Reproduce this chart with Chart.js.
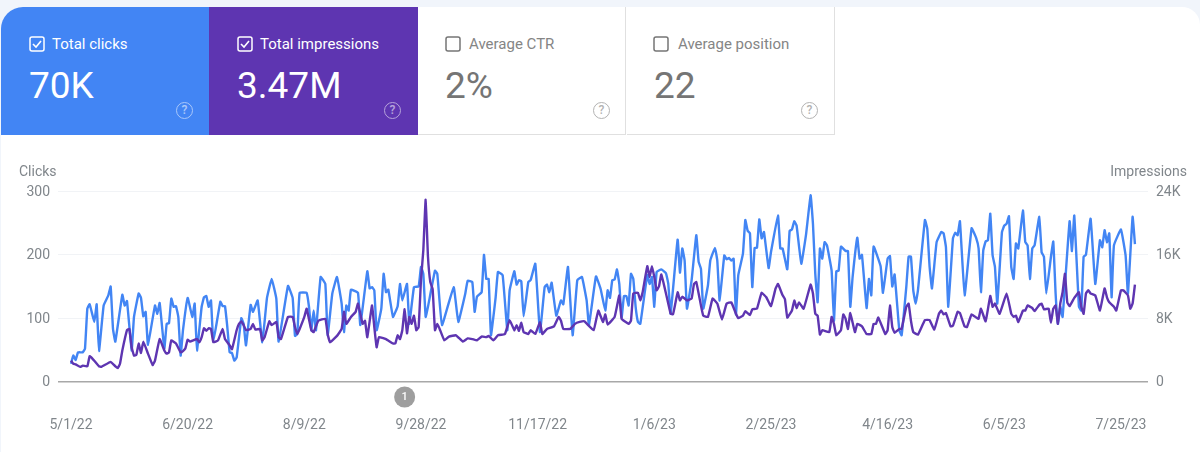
<!DOCTYPE html>
<html>
<head>
<meta charset="utf-8">
<title>Performance</title>
<script src="https://cdn.jsdelivr.net/npm/chart.js@4"></script>
<style>
html, body { margin: 0; padding: 0; width: 1200px; height: 452px; overflow: hidden; background: #f1f5fb; font-family: Roboto, sans-serif; }
#card { position: absolute; left: 1px; top: 7px; width: 1199px; height: 470px; background: #fff; border-radius: 22px 18px 0 24px; overflow: hidden; }
.tile { position: absolute; top: 0; width: 208px; height: 128px; box-sizing: border-box; }
.tile.blue { left: 0; background: #4285f4; color: #fff; }
.tile.purple { left: 208px; width: 209px; background: #5e35b1; color: #fff; }
.tile.off { color: #757575; border-bottom: 1px solid #e0e0e0; border-right: 1px solid #e0e0e0; }
.tile.off .name { color: #858585; }
.box { position: absolute; left: 28px; top: 29px; width: 16px; height: 16px; }
.name { position: absolute; left: 51px; top: 28px; font-size: 15px; line-height: 18px; white-space: nowrap; }
.big { position: absolute; left: 28px; top: 58px; font-size: 37px; line-height: 42px; white-space: nowrap; }
.help { position: absolute; left: 175px; top: 95px; width: 15px; height: 15px; border: 1.5px solid; border-radius: 50%; font-size: 12px; font-weight: 500; line-height: 15px; text-align: center; opacity: .55; }
.axis-title { position: absolute; top: 164px; font-size: 14px; line-height: 15px; color: #80868b; }
#chartWrap { position: absolute; left: 0; top: 0; width: 1200px; height: 452px; }
</style>
</head>
<body>
<div id="card">
  <div class="tile blue">
    <svg class="box" viewBox="0 0 16 16"><rect x="1" y="1" width="14" height="14" rx="2" fill="none" stroke="#fff" stroke-width="1.5"/><path d="M4 8l3 3 5-6" fill="none" stroke="#fff" stroke-width="1.6"/></svg>
    <div class="name">Total clicks</div><div class="big">70K</div><div class="help">?</div>
  </div>
  <div class="tile purple">
    <svg class="box" viewBox="0 0 16 16"><rect x="1" y="1" width="14" height="14" rx="2" fill="none" stroke="#fff" stroke-width="1.5"/><path d="M4 8l3 3 5-6" fill="none" stroke="#fff" stroke-width="1.6"/></svg>
    <div class="name">Total impressions</div><div class="big">3.47M</div><div class="help">?</div>
  </div>
  <div class="tile off" style="left:417px">
    <svg class="box" style="left:27px" viewBox="0 0 16 16"><rect x="1" y="1" width="14" height="14" rx="2" fill="none" stroke="#757575" stroke-width="1.5"/></svg>
    <div class="name" style="left:51px">Average CTR</div><div class="big" style="left:27px">2%</div><div class="help" style="left:175px">?</div>
  </div>
  <div class="tile off" style="left:626px">
    <svg class="box" style="left:26px" viewBox="0 0 16 16"><rect x="1" y="1" width="14" height="14" rx="2" fill="none" stroke="#757575" stroke-width="1.5"/></svg>
    <div class="name" style="left:51px">Average position</div><div class="big" style="left:27px">22</div><div class="help" style="left:174px">?</div>
  </div>
</div>
<div id="chartWrap"><canvas id="chart" width="1200" height="452"></canvas></div>
<div class="axis-title" style="left:19px">Clicks</div>
<div class="axis-title" style="right:13px">Impressions</div>

<script>
// days counted from 5/1/22 at each turning point of the lines
const clicksDays = [0,1,2,3,5,6,7,8,10,11,12,14,16,17,18,19,22,23,24,26,27,29,30,31,32,33,36,37,38,40,41,42,43,44,45,46,47,48,50,52,53,54,56,57,58,59,60,61,64,65,66,67,68,69,70,71,73,74,75,77,78,80,82,84,86,88,89,93,95,96,97,98,101,102,103,104,105,107,109,110,112,114,116,117,118,119,120,123,124,127,128,129,130,131,133,134,135,136,138,140,141,142,144,145,147,149,150,151,152,153,156,157,159,164,166,169,170,172,173,174,176,177,178,179,180,182,183,185,187,188,190,191,192,193,194,196,197,199,201,203,204,205,206,208,210,211,213,215,217,219,221,222,225,227,229,230,231,232,233,234,235,236,237,238,239,240,241,242,243,244,247,248,249,250,251,253,255,256,257,260,261,262,263,264,266,268,269,270,271,273,274,276,277,278,280,281,282,283,284,285,286,288,289,290,291,292,293,294,295,296,297,299,300,303,304,305,307,308,309,310,311,313,315,317,318,319,320,321,322,323,324,326,327,328,329,330,332,333,334,335,337,338,339,341,342,343,344,347,348,350,351,352,353,355,356,358,359,360,361,362,363,366,367,368,369,371,373,374,375,376,378,379,380,381,383,386,388,389,390,391,392,393,394,395,396,397,399,400,401,402,403,404,405,406,408,409,410,411,412,413,415,416,417,418,420,421,422,423,424,425,428,429,430,432,433,434,435,437,439,441,442,443,444,445,446,447,450,452,453,455,456];
const clicks = [28,41,34,46,46,52,115,122,94,122,48,120,136,150,83,63,137,120,127,49,102,139,132,103,110,58,120,107,124,52,91,92,131,118,119,102,41,81,132,102,123,49,118,133,135,118,128,63,126,119,119,86,46,45,33,38,100,91,57,121,110,128,62,132,162,131,63,151,132,72,75,140,140,118,81,112,81,165,154,73,139,165,123,78,120,112,145,140,89,174,147,149,144,81,115,170,141,145,102,119,154,128,154,91,149,150,181,170,102,118,175,170,89,149,94,139,159,157,110,134,141,200,162,162,73,133,173,168,81,144,174,153,160,158,103,157,160,186,78,149,153,141,156,104,128,122,181,73,160,165,128,89,166,146,112,144,132,160,161,177,154,101,135,135,120,170,162,118,94,91,168,154,165,118,173,177,171,154,107,224,172,210,191,115,160,231,189,178,115,152,191,211,191,128,199,193,195,191,194,106,168,202,255,238,234,149,211,211,256,226,236,179,204,262,210,210,177,238,240,253,246,186,231,294,249,170,125,210,194,220,215,175,96,174,175,213,206,206,118,165,227,194,200,116,162,136,213,182,140,194,198,150,169,81,73,149,197,197,144,123,144,255,241,181,147,220,236,234,212,118,226,235,231,253,136,242,226,210,141,207,221,223,265,199,181,123,236,246,249,261,181,162,218,210,270,220,215,162,210,215,260,204,197,139,197,221,139,91,118,102,253,206,262,118,112,197,200,257,154,223,212,239,220,234,133,215,240,199,139,260,217];

const impressionsDays = [0,1,2,4,5,7,8,9,12,13,17,19,20,21,22,24,25,26,27,28,29,30,31,33,35,36,38,40,41,42,43,45,47,48,49,50,51,54,55,56,57,58,59,60,61,63,65,66,68,69,71,72,73,74,75,77,78,79,81,82,83,85,86,88,89,90,93,95,96,97,98,100,101,103,104,106,109,110,111,114,116,117,118,120,122,123,125,126,127,129,130,131,132,135,138,139,140,141,142,143,144,145,146,147,148,149,150,151,152,153,154,155,156,157,158,160,162,165,168,170,172,174,176,178,179,181,183,185,186,188,190,191,192,193,194,196,197,199,201,202,204,207,209,210,211,214,216,218,220,224,226,228,229,230,233,235,236,239,240,241,243,244,245,247,248,249,250,251,252,253,255,257,258,259,260,261,262,264,266,267,268,270,271,273,275,277,279,281,283,285,286,288,289,291,292,294,296,298,300,302,303,305,306,307,309,310,311,312,314,317,318,319,320,321,322,325,326,327,328,330,331,332,333,334,336,337,339,341,343,344,345,346,349,350,351,352,353,355,356,358,359,360,361,363,366,368,370,372,373,374,375,377,378,380,381,383,384,386,388,389,390,392,394,395,396,398,401,403,404,405,406,408,409,410,412,413,415,416,417,419,420,421,422,423,424,425,426,427,428,430,432,433,434,435,436,437,439,441,443,444,445,447,448,450,451,453,454,455,456];
const impressions = [2640,2240,2160,1840,2000,1920,3200,2960,1920,1840,2480,1920,1680,2240,3920,6480,6640,4320,3280,3360,4800,3600,5040,3520,2080,2640,5360,3920,3520,3680,5200,4800,3680,3840,4160,5280,5040,5360,4960,5600,6720,6400,6720,6640,4960,5200,6640,5360,4560,4080,6480,7280,7600,7120,6480,6640,7280,6560,6640,5200,5600,7600,7120,7520,5600,5360,8160,8160,6880,6000,6640,8160,9200,6480,6240,7680,7920,6000,4960,5760,6640,8800,7280,8160,8800,9840,7280,7680,5600,9600,6880,4320,5600,5360,4800,4800,5840,5360,6480,9120,6080,8160,7280,8320,6480,6880,12800,16560,22960,15760,12560,11680,6480,7280,6640,5200,5680,5840,5040,5440,5360,5200,5680,5600,5760,5200,5840,5920,6000,7760,6480,7120,6400,7440,6240,6000,6480,6000,7520,6000,6640,6960,8160,7680,6640,6640,7280,7520,7600,6480,8960,7520,8480,7200,8160,10880,7920,7280,7680,11120,11200,10240,11280,14560,13200,14560,13200,11520,12000,13520,11120,8560,8480,9840,11280,10240,10720,10240,10480,12320,12560,9600,8320,8160,10480,9840,7840,9840,10000,8560,8000,8320,8880,8400,9120,9200,11200,10640,9520,11760,12320,10880,10400,8080,8960,10240,9280,10000,9200,12240,11120,8560,8320,5920,6480,6240,8160,7280,5840,6480,8480,7920,6640,8640,6240,7280,6960,6000,6000,7280,7280,8080,6000,6480,9600,6880,6160,6640,6640,9440,9840,7680,6240,5920,7760,7760,6560,8560,8960,8480,8640,6960,7040,8800,8640,6960,6880,8480,8080,7920,9200,7600,10800,9440,9840,8560,11120,8560,8160,8320,7520,8960,8960,9600,9280,8880,9680,9840,9120,9200,7440,9200,9600,7280,9840,11280,13600,10000,9520,10560,11280,9440,8560,11120,11520,11120,10880,8960,11760,10640,10000,9440,8960,11520,11520,10880,9200,9840,12240];

const tickDays = [0,50,100,150,200,250,300,350,400,450];
const tickLabels = ['5/1/22','6/20/22','8/9/22','9/28/22','11/17/22','1/6/23','2/25/23','4/16/23','6/5/23','7/25/23'];
const clicksTicks = ['0','100','200','300'];
const impressionsTicks = ['0','8K','16K','24K'];
const noteDays = [143];
const noteLabels = ['1'];

const greyText = '#80868b';
const tickFont = { family: 'Roboto', size: 14 };

// the numbered grey marker under the axis
const notePlugin = {
    id: 'notes',
    afterDraw(chart) {
        const ctx = chart.ctx;
        const x = chart.scales.x;
        ctx.save();
        noteDays.forEach((d, i) => {
            const px = x.getPixelForValue(d);
            ctx.fillStyle = '#9e9e9e';
            ctx.beginPath();
            ctx.arc(px, 397, 10.5, 0, Math.PI * 2);
            ctx.fill();
            ctx.fillStyle = '#fff';
            ctx.font = '500 11px Roboto';
            ctx.textAlign = 'center';
            ctx.textBaseline = 'middle';
            ctx.fillText(noteLabels[i], px, 397.5);
        });
        ctx.restore();
    }
};

const chart = new Chart(document.getElementById('chart'), {
    type: 'line',
    data: {
        datasets: [
            {
                label: 'Impressions',
                data: impressionsDays.map((d, i) => ({ x: d, y: impressions[i] })),
                yAxisID: 'y2',
                borderColor: '#5e35b1',
                borderWidth: 2.4,
                borderJoinStyle: 'round',
                pointRadius: 0,
                tension: 0.1,
                order: 1
            },
            {
                label: 'Clicks',
                data: clicksDays.map((d, i) => ({ x: d, y: clicks[i] })),
                yAxisID: 'y',
                borderColor: '#4285f4',
                borderWidth: 2.4,
                borderJoinStyle: 'round',
                pointRadius: 0,
                tension: 0.1,
                order: 2
            }
        ]
    },
    options: {
        responsive: false,
        animation: false,
        layout: { padding: { top: 191.5, left: 0, right: 0, bottom: 0 } },
        plugins: { legend: { display: false }, tooltip: { enabled: false } },
        scales: {
            x: {
                type: 'linear',
                min: -5.57,
                max: 461.6,
                afterBuildTicks: s => { s.ticks = tickDays.map(v => ({ value: v })); },
                afterFit: s => { s.height = 70.5; },
                grid: { display: false, drawTicks: false },
                border: { display: false },
                ticks: {
                    autoSkip: false,
                    maxRotation: 0,
                    padding: 36,
                    color: greyText,
                    font: tickFont,
                    callback: v => tickLabels[tickDays.indexOf(v)]
                }
            },
            y: {
                position: 'left',
                min: 0,
                max: 300,
                afterFit: s => { s.width = 58; },
                grid: {
                    drawTicks: false,
                    lineWidth: c => c.tick.value === 0 ? 1.5 : 1,
                    color: c => c.tick.value === 0 ? '#a8a8a8' : '#f1f3f6'
                },
                border: { display: false },
                ticks: {
                    stepSize: 100,
                    padding: 8,
                    labelOffset: 1,
                    color: greyText,
                    font: tickFont,
                    callback: (v, i) => clicksTicks[i]
                }
            },
            y2: {
                position: 'right',
                min: 0,
                max: 24000,
                afterFit: s => { s.width = 52; },
                grid: { display: false, drawTicks: false },
                border: { display: false },
                ticks: {
                    stepSize: 8000,
                    padding: 8,
                    labelOffset: 1,
                    color: greyText,
                    font: tickFont,
                    callback: (v, i) => impressionsTicks[i]
                }
            }
        }
    },
    plugins: [notePlugin]
});
</script>
</body>
</html>
